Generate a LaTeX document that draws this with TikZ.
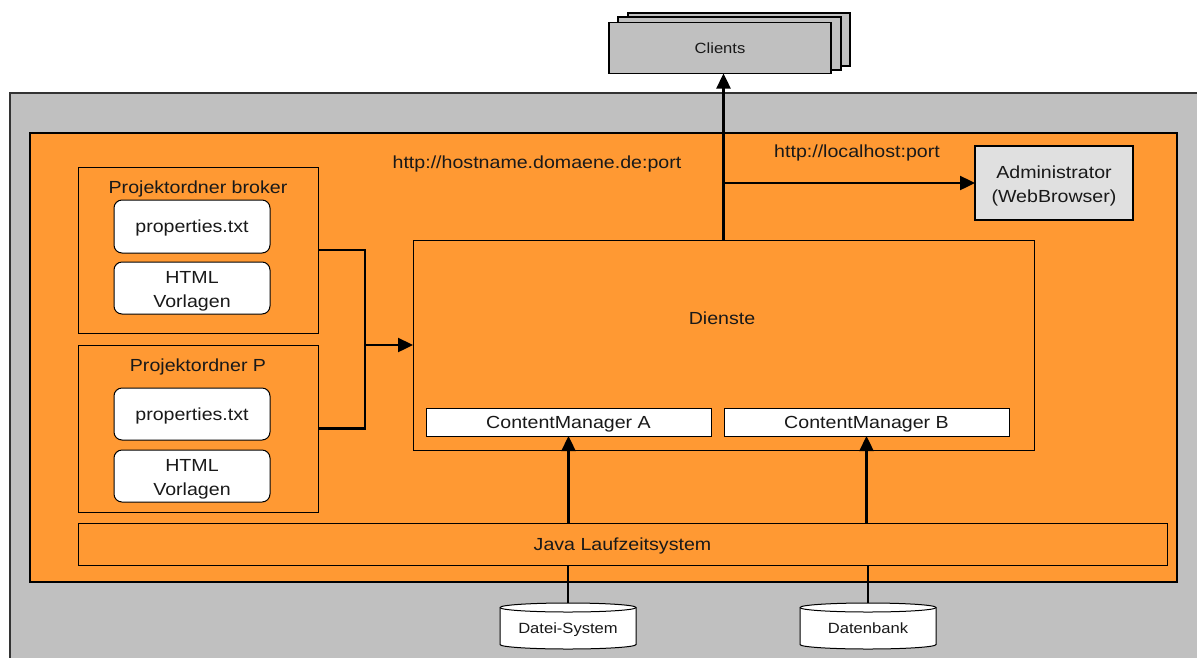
\documentclass[tikz,border=0pt]{standalone}
\usepackage{fontspec}
\setmainfont{Liberation Sans}[FakeStretch=1.12]
\usetikzlibrary{arrows.meta}
\definecolor{og}{HTML}{FF9933}
\definecolor{gr}{HTML}{C0C0C0}
\definecolor{lg}{HTML}{E0E0E0}
\begin{document}
\begin{tikzpicture}[x=1pt,y=-1pt,
  box/.style={draw=black, line width=1pt, inner sep=0pt, outer sep=0pt},
  whitebox/.style={box, fill=white, rounded corners=8pt},
  big/.style={font=\fontsize{17.5}{24}\selectfont, align=center, text=black!90, text height=12.5pt, text depth=0.3pt},
  bigtwo/.style={font=\fontsize{17.5}{24}\selectfont, align=center, text=black!90},
  small/.style={font=\fontsize{14.8}{18}\selectfont, text=black!90, text height=10.6pt, text depth=0.3pt},
  conn/.style={line width=2.4pt, draw=black},
  arr/.style={conn, -{Triangle[length=15pt,width=14pt]}},
  clientbox/.style={draw=black, line width=1.5pt, fill=gr, inner sep=0pt, outer sep=0pt},
  cylbox/.style={minimum width=136pt, minimum height=46pt, inner sep=0pt, outer sep=0pt},
  cyl/.pic={
    \path[draw=black, fill=white, line width=1pt] (-68,-18.5) -- (-68,18.5)
      arc[start angle=180, end angle=0, x radius=68, y radius=4.5]
      -- (68,-18.5) arc[start angle=0, end angle=-180, x radius=68, y radius=4.5] -- cycle;
    \draw[line width=1pt] (-68,-18.5) arc[start angle=180, end angle=0, x radius=68, y radius=4.5];
  }
]
\useasboundingbox (0,0) rectangle (1197,657);
\clip (0,0) rectangle (1197,657);

% outer gray and orange areas
\node[box, draw=black!80, line width=1.6pt, fill=gr, minimum width=1220pt, minimum height=600pt, anchor=north west] (host) at (10,93) {};
\node[box, line width=1.2pt, fill=og, minimum width=1147pt, minimum height=449pt, anchor=north west] (jvm) at (30,133) {};

% labels
\node[big] (hosturl) at (537,162) {http://hostname.domaene.de:port};
\node[big] (localurl) at (857,151) {http://localhost:port};

% project folders
\node[box, minimum width=240pt, minimum height=166pt] (broker) at (198,250) {};
\node[big] (brokert) at (198,187) {Projektordner broker};
\node[whitebox, minimum width=156pt, minimum height=53pt, big] (props1) at (192,226.5) {properties.txt};
\node[whitebox, minimum width=156pt, minimum height=52pt] (html1) at (192,288) {};
\node[bigtwo] (html1T) at (192,291) {HTML\\Vorlagen};

\node[box, minimum width=240pt, minimum height=167pt] (projp) at (198,428.5) {};
\node[big] (projpt) at (198,365) {Projektordner P};
\node[whitebox, minimum width=156pt, minimum height=52pt, big] (props2) at (192,414) {properties.txt};
\node[whitebox, minimum width=156pt, minimum height=52pt] (html2) at (192,476) {};
\node[bigtwo] (html2T) at (192,479) {HTML\\Vorlagen};

% Dienste
\node[box, minimum width=621pt, minimum height=210pt] (dienste) at (723.5,345) {};
\node[big] (diensteT) at (722,318) {Dienste};
\node[box, fill=white, minimum width=285pt, minimum height=28pt, big] (cma) at (568.5,422) {ContentManager A};
\node[box, fill=white, minimum width=285pt, minimum height=28pt, big] (cmb) at (866.5,422) {ContentManager B};

% Java
\node[box, minimum width=1089pt, minimum height=42pt, big] (java) at (622.5,544) {Java Laufzeitsystem};

% Administrator
\node[box, line width=2.6pt, fill=lg, minimum width=158pt, minimum height=74pt] (admin) at (1054,183) {};
\node[bigtwo] (adminT) at (1054,185.5) {Administrator\\(WebBrowser)};

% connectors
\coordinate (join) at (365,345);
\draw[conn] (broker.east) -- (broker.east -| join) -- (projp.east -| join) -- (projp.east);
\draw[arr] (join) -- (dienste.west);
\draw[arr] (java.north -| cma.south) -- (cma.south);
\draw[arr] (java.north -| cmb.south) -- (cmb.south);

% clients
\node[clientbox, minimum width=222pt, minimum height=53pt] (client3) at (739,39.5) {};
\node[clientbox, minimum width=223pt, minimum height=53pt] (client2) at (729.5,43.5) {};
\node[clientbox, minimum width=222pt, minimum height=51pt, small] (clients) at (720,48) {Clients};

\draw[arr] (dienste.north) -- (dienste.north |- clients.south);
\draw[arr] (dienste.north |- admin.west) -- (admin.west);

% storage
\pic at (568,626) {cyl};
\pic at (868,626) {cyl};
\node[cylbox] (files) at (568,626) {};
\node[cylbox] (db) at (868,626) {};
\node[small] (filesT) at (568,628.5) {Datei-System};
\node[small] (dbT) at (868,628.5) {Datenbank};
\draw[conn] (java.south -| files.north) -- (files.north);
\draw[conn] (java.south -| db.north) -- (db.north);
\end{tikzpicture}
\end{document}
